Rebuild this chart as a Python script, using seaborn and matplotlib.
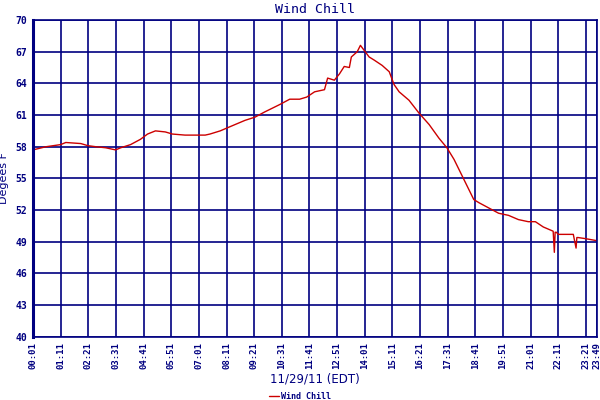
import pandas as pd
import matplotlib
matplotlib.use("Agg")
import matplotlib.pyplot as plt
import seaborn as sns

# readings for 11/29/11
times = ["00:01", "00:34", "01:11", "01:24", "02:02", "02:20", "02:40", "03:05",
         "03:30", "03:43", "04:08", "04:33", "04:51", "05:11", "05:36", "05:54",
         "06:26", "07:17", "07:29", "07:55", "08:20", "08:58", "09:23", "09:48",
         "10:26", "10:51", "11:16", "11:34", "11:54", "12:19", "12:27", "12:44",
         "12:57", "13:09", "13:22", "13:27", "13:42", "13:50", "14:02", "14:12",
         "14:25", "14:45", "15:03", "15:15", "15:28", "15:53", "16:18", "16:44",
         "17:09", "17:29", "17:47", "18:12", "18:37", "18:50", "19:15", "19:40",
         "20:05", "20:30", "20:55", "21:13", "21:33", "21:58", "22:01", "22:03",
         "22:06", "22:11", "22:49", "22:56", "22:58", "23:01", "23:19", "23:49"]
wind_chill = [57.7, 58.0, 58.2, 58.4, 58.3, 58.1, 58.0, 57.9,
              57.7, 57.9, 58.2, 58.7, 59.2, 59.5, 59.4, 59.2,
              59.1, 59.1, 59.2, 59.5, 59.9, 60.5, 60.8, 61.3,
              62.0, 62.5, 62.5, 62.7, 63.2, 63.4, 64.5, 64.3,
              64.9, 65.6, 65.5, 66.5, 67.0, 67.6, 67.0, 66.5,
              66.2, 65.7, 65.1, 63.9, 63.2, 62.4, 61.2, 60.1,
              58.8, 57.9, 56.8, 54.9, 53.0, 52.7, 52.2, 51.7,
              51.5, 51.1, 50.9, 50.9, 50.4, 50.0, 48.0, 49.9,
              49.9, 49.7, 49.7, 48.4, 49.4, 49.4, 49.3, 49.1]

tick_labels = ["00:01", "01:11", "02:21", "03:31", "04:41", "05:51", "07:01",
               "08:11", "09:21", "10:31", "11:41", "12:51", "14:01", "15:11",
               "16:21", "17:31", "18:41", "19:51", "21:01", "22:11", "23:21", "23:49"]
y_ticks = [40, 43, 46, 49, 52, 55, 58, 61, 64, 67, 70]


def to_min(t):
    h, m = t.split(":")
    return int(h) * 60 + int(m)


df = pd.DataFrame({"minute": [to_min(t) for t in times], "Wind Chill": wind_chill})

navy = "#000080"
sns.set_style("white")
plt.rcParams["font.family"] = ["DejaVu Sans"]

fig = plt.figure(figsize=(6, 4), dpi=100)
ax = fig.add_axes([0.055, 0.158, 0.94, 0.792])

sns.lineplot(data=df, x="minute", y="Wind Chill", color="#cc0000", linewidth=1.0,
             ax=ax, label="Wind Chill", legend=False)

xt = [to_min(t) for t in tick_labels]
ax.set_xlim(xt[0], xt[-1])
ax.set_ylim(40, 70)
ax.set_xticks(xt)
ax.set_xticklabels(tick_labels, rotation=90, family="DejaVu Sans Mono",
                   fontsize=6.5, fontweight="bold", color=navy)
ax.set_yticks(y_ticks)
ax.set_yticklabels([str(v) for v in y_ticks], family="DejaVu Sans Mono",
                   fontsize=7, fontweight="bold", color=navy)
ax.tick_params(axis="both", length=0, pad=4)

ax.grid(True, color=navy, linewidth=1.2)
ax.set_axisbelow(True)
for side, sp in ax.spines.items():
    sp.set_color(navy)
    sp.set_linewidth(1.2)
ax.spines["left"].set_linewidth(2.2)

ax.set_title("Wind Chill", family="DejaVu Sans Mono", fontsize=9.5, color=navy, pad=5)
ax.set_xlabel("11/29/11 (EDT)", fontsize=8.5, color=navy, labelpad=2)
ax.set_ylabel("Degees F", fontsize=8, color=navy)
ax.yaxis.set_label_coords(-0.043, 0.5)

handles, labels = ax.get_legend_handles_labels()
fig.legend(handles, labels, loc="lower center", bbox_to_anchor=(0.5, -0.022),
           frameon=False, handlelength=1.2, handletextpad=0.3,
           prop={"family": "DejaVu Sans Mono", "size": 6, "weight": "bold"},
           labelcolor=navy)

fig.savefig("out.png", dpi=100)
plt.close(fig)
